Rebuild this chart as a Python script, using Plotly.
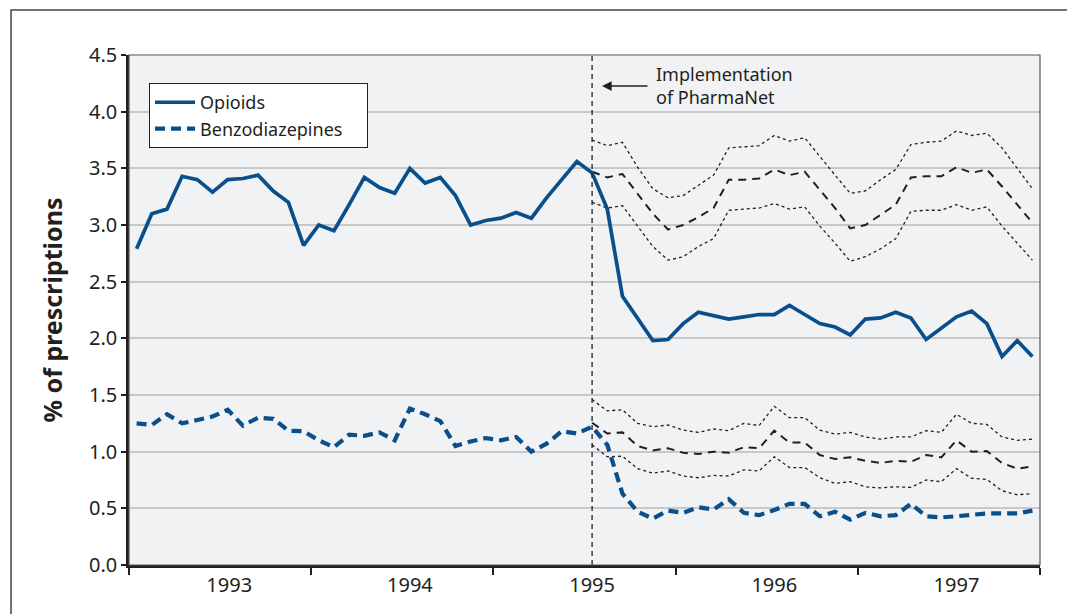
import plotly.graph_objects as go

# ---- data (monthly, 60 months) ----
year_labels = ["1993", "1994", "1995", "1996", "1997"]
year_label_pos = [6.6, 18.5, 30.5, 42.5, 54.5]
year_ticks = [0, 12, 24, 36, 48, 60]

series_names = ["Opioids", "Benzodiazepines"]

opioids = [2.79, 3.10, 3.14, 3.43, 3.40, 3.29, 3.40, 3.41, 3.44, 3.30,
           3.20, 2.82, 3.00, 2.95, 3.18, 3.42, 3.33, 3.28, 3.50, 3.37,
           3.42, 3.26, 3.00, 3.04, 3.06, 3.11, 3.06, 3.24, 3.40, 3.56,
           3.46, 3.14, 2.37, 2.18, 1.98, 1.99, 2.13, 2.23, 2.20, 2.17,
           2.19, 2.21, 2.21, 2.29, 2.21, 2.13, 2.10, 2.03, 2.17, 2.18,
           2.23, 2.18, 1.99, 2.09, 2.19, 2.24, 2.13, 1.84, 1.98, 1.84]

benzos = [1.25, 1.235, 1.33, 1.25, 1.28, 1.31, 1.37, 1.23, 1.30, 1.29,
          1.185, 1.18, 1.10, 1.04, 1.15, 1.14, 1.17, 1.10, 1.38, 1.33,
          1.27, 1.05, 1.09, 1.12, 1.10, 1.13, 1.00, 1.07, 1.18, 1.16,
          1.22, 1.06, 0.63, 0.47, 0.41, 0.48, 0.46, 0.51, 0.49, 0.58,
          0.46, 0.44, 0.485, 0.54, 0.54, 0.43, 0.47, 0.40, 0.46, 0.43,
          0.44, 0.54, 0.43, 0.42, 0.43, 0.44, 0.455, 0.455, 0.455, 0.48]

# predicted (counterfactual) series from month index 30 to 59
opioid_pred = [3.47, 3.42, 3.45, 3.28, 3.10, 2.96, 3.00, 3.07, 3.15, 3.40,
               3.40, 3.41, 3.49, 3.44, 3.47, 3.31, 3.15, 2.97, 3.00, 3.09,
               3.18, 3.42, 3.43, 3.43, 3.51, 3.46, 3.49, 3.34, 3.18, 3.02]
opioid_hi = [3.75, 3.70, 3.73, 3.51, 3.32, 3.24, 3.26, 3.35, 3.44, 3.68,
             3.69, 3.70, 3.79, 3.74, 3.77, 3.60, 3.44, 3.28, 3.30, 3.40,
             3.49, 3.71, 3.73, 3.74, 3.83, 3.79, 3.81, 3.68, 3.50, 3.32]
opioid_lo = [3.20, 3.15, 3.17, 2.99, 2.81, 2.69, 2.72, 2.81, 2.88, 3.13,
             3.14, 3.15, 3.19, 3.14, 3.16, 2.99, 2.84, 2.68, 2.72, 2.79,
             2.88, 3.12, 3.13, 3.13, 3.18, 3.13, 3.16, 2.99, 2.84, 2.69]

benzo_pred = [1.255, 1.16, 1.17, 1.05, 1.01, 1.03, 0.99, 0.98, 1.00, 0.99,
              1.04, 1.03, 1.185, 1.08, 1.08, 0.97, 0.935, 0.95, 0.92, 0.90,
              0.92, 0.91, 0.97, 0.95, 1.10, 1.00, 1.005, 0.90, 0.85, 0.87]
benzo_hi = [1.46, 1.36, 1.37, 1.25, 1.22, 1.235, 1.19, 1.17, 1.20, 1.185,
            1.25, 1.23, 1.40, 1.30, 1.30, 1.19, 1.155, 1.17, 1.13, 1.11,
            1.13, 1.13, 1.185, 1.17, 1.33, 1.25, 1.24, 1.13, 1.10, 1.11]
benzo_lo = [1.06, 0.955, 0.96, 0.85, 0.81, 0.83, 0.785, 0.77, 0.79, 0.785,
            0.84, 0.83, 0.955, 0.86, 0.86, 0.77, 0.72, 0.735, 0.69, 0.68,
            0.69, 0.685, 0.75, 0.735, 0.85, 0.765, 0.755, 0.655, 0.62, 0.63]

intervention_month = 30.5

x_all = [i + 0.5 for i in range(len(opioids))]
x_pred = [i + 0.5 for i in range(30, 30 + len(opioid_pred))]

BLUE = "#0a4f8c"
DARK = "#231f20"
FONT = "Noto Sans"
PAD = "\u00a0\u00a0\u00a0\u00a0"  # extra right padding inside the legend box

fig = go.Figure()

# predicted bands (dotted) and predicted lines (dashed black)
for ys in (opioid_hi, opioid_lo, benzo_hi, benzo_lo):
    fig.add_trace(go.Scatter(x=x_pred, y=ys, mode="lines", showlegend=False,
                             hoverinfo="skip",
                             line=dict(color=DARK, width=1.3, dash="dot")))
for ys in (opioid_pred, benzo_pred):
    fig.add_trace(go.Scatter(x=x_pred, y=ys, mode="lines", showlegend=False,
                             hoverinfo="skip",
                             line=dict(color=DARK, width=2, dash="8px,6px")))

fig.add_trace(go.Scatter(x=x_all, y=opioids, mode="lines", name=series_names[0] + PAD,
                         line=dict(color=BLUE, width=3.7)))
fig.add_trace(go.Scatter(x=x_all, y=benzos, mode="lines", name=series_names[1] + PAD,
                         line=dict(color=BLUE, width=4.2, dash="10px,6px")))

# vertical dashed intervention line
fig.add_shape(type="line", xref="x", yref="paper",
              x0=intervention_month, x1=intervention_month, y0=0, y1=1,
              line=dict(color=DARK, width=1.3, dash="5px,4px"))

# plot border (top/right thin)
fig.add_shape(type="rect", xref="paper", yref="paper", x0=0, x1=1, y0=0, y1=1,
              line=dict(color="#555555", width=1.2), layer="above")

# outer figure frame: only its left and top edges are visible in the picture
fig.add_shape(type="path", xref="paper", yref="paper",
              path="M -0.1295,-0.2 L -0.1295,1.088 L 1.2,1.088",
              line=dict(color="#444444", width=1.5), layer="above")

# annotation with arrow
fig.add_annotation(x=31.15, y=4.226, xref="x", yref="y", text="",
                   showarrow=True, ax=47, ay=0, axref="pixel", ayref="pixel",
                   arrowhead=2, arrowsize=1.3, arrowwidth=1.5, arrowcolor=DARK)
fig.add_annotation(x=34.6, y=4.235, xref="x", yref="y",
                   text="Implementation<br>of PharmaNet", showarrow=False,
                   xanchor="left", yanchor="middle", align="left",
                   font=dict(family=FONT, size=18, color=DARK))

fig.update_layout(
    width=1067, height=614,
    margin=dict(l=129, r=27, t=55, b=49),
    paper_bgcolor="white",
    plot_bgcolor="#f1f2f4",
    font=dict(family=FONT, color=DARK, size=20),
    showlegend=True,
    legend=dict(x=0.022, y=0.945, xanchor="left", yanchor="top",
                bgcolor="white", bordercolor=DARK, borderwidth=1,
                font=dict(family=FONT, size=18, color=DARK),
                itemwidth=40),
    xaxis=dict(range=[0, 60], showgrid=False, zeroline=False,
               showline=True, linecolor=DARK, linewidth=2.5,
               tickmode="array", tickvals=year_label_pos, ticktext=year_labels,
               ticks="", tickfont=dict(family=FONT, size=20, color=DARK),
               minor=dict(tickmode="array", tickvals=year_ticks, ticks="outside",
                          ticklen=7, tickwidth=1.5, tickcolor=DARK, showgrid=False)),
    yaxis=dict(range=[0, 4.5], dtick=0.5, tick0=0, tickformat=".1f",
               showgrid=True, gridcolor="#c8c8c8", gridwidth=2, zeroline=False,
               showline=True, linecolor=DARK, linewidth=2.5,
               ticks="outside", ticklen=5, tickwidth=1.5, tickcolor=DARK,
               tickfont=dict(family=FONT, size=20, color=DARK),
               title=dict(text="<b>% of prescriptions</b>", standoff=20,
                          font=dict(family=FONT, size=25, color=DARK))),
)

# remove the browser's default 8px body margin so the figure fills the window
fig.write_html("out.html",
               config={"displayModeBar": False},
               post_script="document.body.style.margin='0';"
                           "document.body.style.overflow='hidden';"
                           "document.documentElement.style.overflow='hidden';")
